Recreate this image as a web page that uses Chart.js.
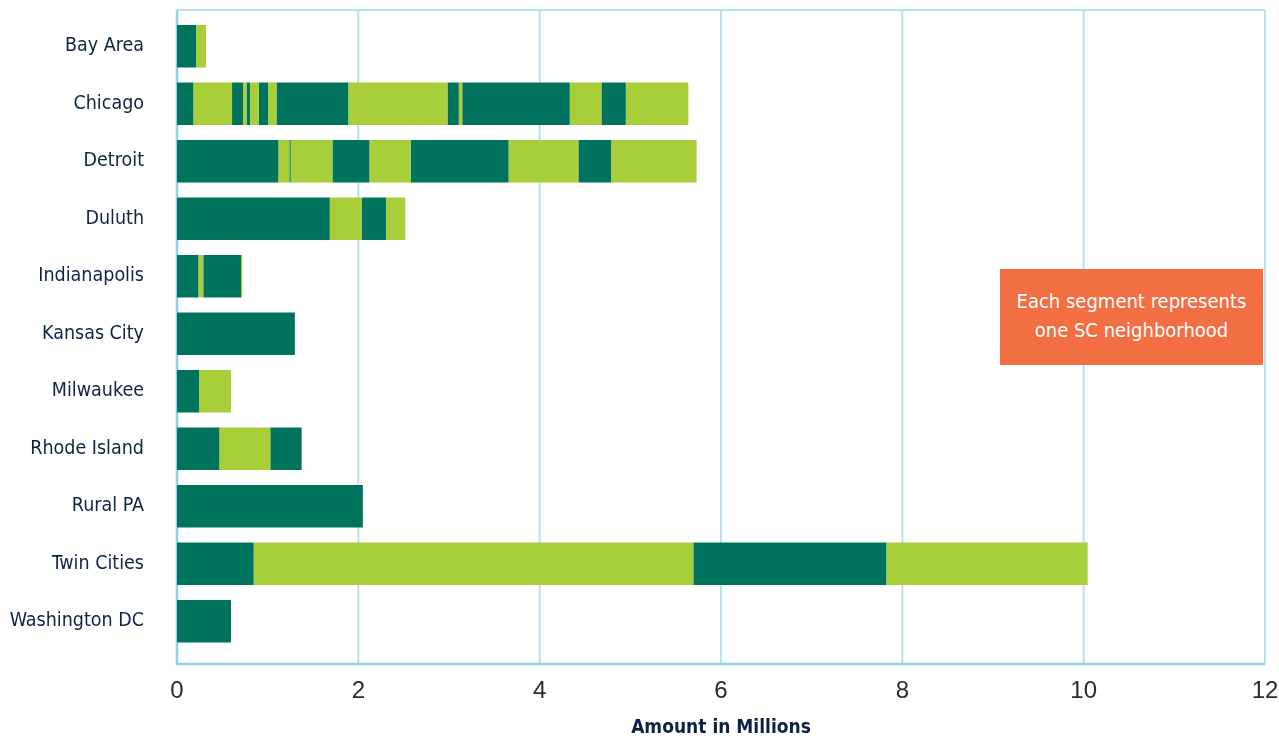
<!DOCTYPE html>
<html>
<head>
<meta charset="utf-8">
<script src="https://cdn.jsdelivr.net/npm/chart.js@4.4.0/dist/chart.umd.min.js"></script>
<style>
  html, body { margin: 0; padding: 0; background: #ffffff; }
  #wrap { position: relative; width: 1279px; height: 738px; }
  #note {
    position: absolute; left: 1000px; top: 269px; width: 263px; height: 96px;
    background: #F26E43; color: #ffffff; text-align: center;
    font-family: 'Liberation Sans Narrow', 'DejaVu Sans Condensed', 'Roboto', sans-serif;
    font-size: 20px; line-height: 29px; box-sizing: border-box; padding-top: 18px;
  }
</style>
</head>
<body>
<div id="wrap">
  <canvas id="c" width="1279" height="738"></canvas>
  <div id="note">Each segment represents<br>one SC neighborhood</div>
</div>
<script>
// ---- Data (values in millions; each entry = one SC neighborhood segment) ----
const categories = ['Bay Area', 'Chicago', 'Detroit', 'Duluth', 'Indianapolis', 'Kansas City',
                    'Milwaukee', 'Rhode Island', 'Rural PA', 'Twin Cities', 'Washington DC'];
const bayArea      = [0.21, 0.11];
const chicago      = [0.18, 0.427, 0.121, 0.039, 0.038, 0.099, 0.100, 0.093, 0.791, 1.095, 0.125, 0.038, 1.186, 0.349, 0.269, 0.690];
const detroit      = [1.118, 0.121, 0.015, 0.46, 0.408, 0.455, 1.08, 0.77, 0.36, 0.944];
const duluth       = [1.685, 0.352, 0.268, 0.213];
const indianapolis = [0.235, 0.055, 0.416, 0.014];
const kansasCity   = [1.30];
const milwaukee    = [0.243, 0.353];
const rhodeIsland  = [0.467, 0.562, 0.346];
const ruralPA      = [2.05];
const twinCities   = [0.845, 4.85, 2.128, 2.221];
const washingtonDC = [0.596];
const xTicks       = [0, 2, 4, 6, 8, 10, 12];
const xTitle       = 'Amount in Millions';

const rows = [bayArea, chicago, detroit, duluth, indianapolis, kansasCity,
              milwaukee, rhodeIsland, ruralPA, twinCities, washingtonDC];

const DARK = '#00735F';
const LIGHT = '#A8CF3A';
const maxSegs = Math.max(...rows.map(r => r.length));
const datasets = [];
for (let k = 0; k < maxSegs; k++) {
  datasets.push({
    label: 'Segment ' + (k + 1),
    data: rows.map(r => (k < r.length ? r[k] : null)),
    backgroundColor: k % 2 === 0 ? DARK : LIGHT,
    borderWidth: 0,
    barPercentage: 0.74,
    categoryPercentage: 1.0
  });
}

const NARROW = "'Liberation Sans Narrow', 'DejaVu Sans Condensed', 'Roboto', sans-serif";

// Plot frame + vertical grid lines extending slightly beyond the category band
const framePlugin = {
  id: 'frame',
  beforeDatasetsDraw(chart) {
    const { ctx, chartArea, scales } = chart;
    const top = chartArea.top - 7.5;
    const bottom = chartArea.bottom + 14;
    const left = chartArea.left;
    const right = chartArea.right;
    ctx.save();
    ctx.strokeStyle = '#B5E2F5';
    ctx.lineWidth = 2;
    xTicks.forEach(v => {
      const x = scales.x.getPixelForValue(v);
      ctx.beginPath(); ctx.moveTo(x, top); ctx.lineTo(x, bottom); ctx.stroke();
    });
    ctx.beginPath(); ctx.moveTo(left, top); ctx.lineTo(right, top); ctx.stroke();
    ctx.strokeStyle = '#8FD3F0';
    ctx.lineWidth = 2.5;
    ctx.beginPath(); ctx.moveTo(left, top); ctx.lineTo(left, bottom); ctx.lineTo(right, bottom); ctx.stroke();
    ctx.restore();
  }
};

function noPad(scale) {
  scale.paddingTop = 0; scale.paddingBottom = 0;
  scale.paddingLeft = 0; scale.paddingRight = 0;
}

new Chart(document.getElementById('c'), {
  type: 'bar',
  data: { labels: categories, datasets },
  options: {
    indexAxis: 'y',
    responsive: false,
    animation: false,
    layout: { padding: { left: 0, right: 14, top: 17.5, bottom: 0 } },
    plugins: { legend: { display: false }, tooltip: { enabled: false } },
    scales: {
      x: {
        stacked: true,
        min: 0, max: 12,
        afterBuildTicks(scale) { scale.ticks = xTicks.map(v => ({ value: v })); },
        afterFit(scale) { scale.height = 88; noPad(scale); },
        grid: { display: false, drawTicks: false },
        border: { display: false },
        ticks: { color: '#2b2b2b', font: { family: "'Liberation Sans', Arial, sans-serif", size: 24 }, padding: 27, maxRotation: 0 },
        title: { display: true, text: xTitle, color: '#0D2144',
                 font: { family: NARROW, size: 19, weight: 'bold', lineHeight: 1 }, padding: 0 }
      },
      y: {
        stacked: true,
        afterFit(scale) { scale.width = 177; noPad(scale); },
        grid: { display: false, drawTicks: false },
        border: { display: false },
        ticks: { color: '#0F2346', font: { family: NARROW, size: 19.5 }, padding: 33 }
      }
    }
  },
  plugins: [framePlugin]
});
</script>
</body>
</html>
